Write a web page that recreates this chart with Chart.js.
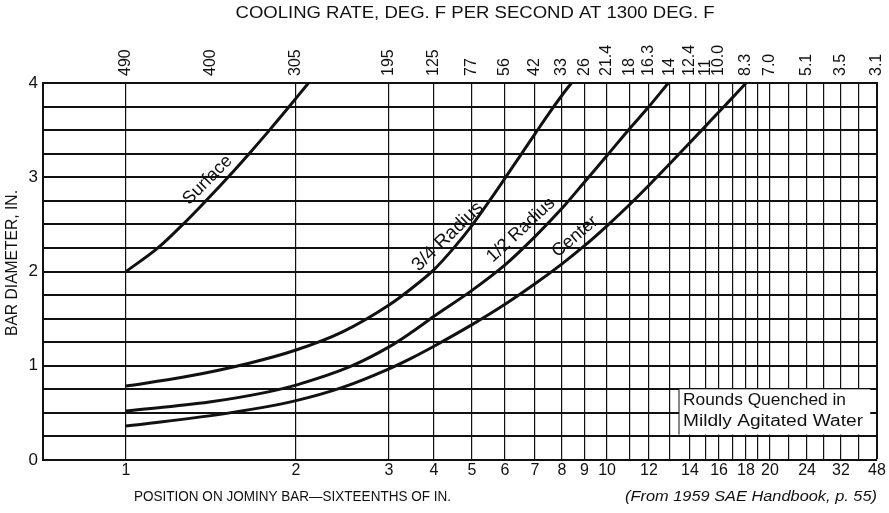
<!DOCTYPE html>
<html>
<head>
<meta charset="utf-8">
<title>Jominy position vs bar diameter</title>
<script src="https://cdn.jsdelivr.net/npm/chart.js@4.4.1/dist/chart.umd.min.js"></script>
<style>
    html, body { margin: 0; padding: 0; background: #fff; }
    #wrap { width: 889px; height: 513px; position: relative; }
</style>
</head>
<body>
<div id="wrap"><canvas id="jominyChart"></canvas></div>
<script>
// --- DATA ---
// Jominy positions (sixteenths of an inch) that carry a vertical grid line
const gridPositions = [1, 2, 3, 4, 5, 6, 7, 8, 9, 10, 11, 12, 13, 14, 15, 16, 17, 18, 19, 20, 22, 24, 28, 32, 40, 48];
// positions that get a printed label on the bottom axis
const bottomLabels = [1, 2, 3, 4, 5, 6, 7, 8, 9, 10, 12, 14, 16, 18, 20, 24, 32, 48];
// top axis: cooling rate (deg F/s at 1300 F) printed at a Jominy position
const ratePositions = [1, 1.5, 2, 3, 4, 5, 6, 7, 8, 9, 10, 11, 12, 13, 14, 15, 16, 18, 20, 24, 32, 48];
const coolingRates = ['490', '400', '305', '195', '125', '77', '56', '42', '33', '26', '21.4', '18', '16.3', '14', '12.4', '11', '10.0', '8.3', '7.0', '5.1', '3.5', '3.1'];

// curves: Jominy position -> bar diameter (in.)
const surfaceJ = [1, 1.188, 1.335, 1.47, 1.6, 1.724, 1.844, 1.96, 2.134];
const surfaceD = [2.0, 2.25, 2.5, 2.75, 3.0, 3.25, 3.5, 3.75, 4.0];

const threeQuarterJ = [1, 1.34, 1.73, 2, 2.5, 3, 3.5, 4, 4.5, 5, 5.5, 6, 6.5, 7, 7.5, 8, 8.42];
const threeQuarterD = [0.785, 0.88, 1.03, 1.167, 1.36, 1.645, 1.82, 2.02, 2.24, 2.49, 2.735, 2.99, 3.225, 3.46, 3.67, 3.87, 4.0];

const halfJ = [1, 1.49, 1.83, 2, 2.58, 3, 3.5, 4, 5, 6, 7, 8, 9, 10, 11, 12, 12.92];
const halfD = [0.52, 0.615, 0.72, 0.795, 0.99, 1.2, 1.355, 1.525, 1.8, 2.07, 2.37, 2.67, 2.95, 3.23, 3.52, 3.75, 4.0];

const centerJ = [1, 1.61, 2, 2.5, 3, 3.5, 4, 5, 6, 7, 8, 9, 10, 11, 12, 13, 14, 15, 16, 17, 18];
const centerD = [0.36, 0.5, 0.63, 0.77, 0.967, 1.081, 1.207, 1.436, 1.652, 1.869, 2.081, 2.274, 2.485, 2.714, 2.915, 3.145, 3.368, 3.548, 3.695, 3.85, 4.0];

// curve captions, placed in data units
const captionText = ['Surface', '3/4 Radius', '1/2 Radius', 'Center'];
const captionJ = [1.48, 4.36, 6.53, 8.58];
const captionD = [2.97, 2.37, 2.44, 2.37];
const captionAngle = [-45, -44, -43, -40];

// --- JOMINY SCALE ---
// the printed Jominy axis is neither linear nor log; it is defined by where each
// position falls along the axis (fraction of the axis length)
const jominyAxisStops = [
    [0.5, 0], [1, 0.0995], [2, 0.3034], [3, 0.4149], [4, 0.4688], [5, 0.5144],
    [6, 0.5540], [7, 0.5899], [8, 0.6223], [9, 0.6493], [10, 0.6763], [11, 0.7038],
    [12, 0.7266], [13, 0.7518], [14, 0.7758], [15, 0.7950], [16, 0.8106], [17, 0.8273],
    [18, 0.8429], [19, 0.8573], [20, 0.8717], [22, 0.8945], [24, 0.9161], [28, 0.9365],
    [32, 0.9568], [40, 0.9784], [48, 1]
];

function interpStops(v, from, to) {
    const s = jominyAxisStops;
    let i = 0;
    while (i < s.length - 2 && v > s[i + 1][from]) i++;
    const a = s[i], b = s[i + 1];
    return a[to] + (v - a[from]) * (b[to] - a[to]) / (b[from] - a[from]);
}

class JominyScale extends Chart.LinearScale {
    getPixelForValue(value) {
        return this.getPixelForDecimal(interpStops(value, 0, 1));
    }
    getValueForPixel(pixel) {
        return interpStops(this.getDecimalForPixel(pixel), 1, 0);
    }
}
JominyScale.id = 'jominy';
JominyScale.defaults = Chart.LinearScale.defaults;
Chart.register(JominyScale);

const FONT = "'Liberation Sans', Arial, Helvetica, sans-serif";
const INK = '#111';
const TOP_TICK_SIZE = 16;

function toPoints(xs, ys) {
    return xs.map((x, i) => ({ x: x, y: ys[i] }));
}

// the scanned lettering is a little wider than Arial, so stretch it to width
function stretchText(ctx, text, x, y, width, align) {
    const w = ctx.measureText(text).width;
    ctx.save();
    ctx.translate(x, y);
    ctx.scale(width / w, 1);
    ctx.textAlign = align;
    ctx.fillText(text, 0, 0);
    ctx.restore();
}

// --- TEXT / ANNOTATION PLUGIN ---
const annotations = {
    id: 'annotations',
    afterDatasetsDraw(chart) {
        const ctx = chart.ctx;
        const x = chart.scales.x;
        const y = chart.scales.y;

        // note box in the lower right corner
        const bx0 = x.getPixelForValue(13.45), bx1 = x.getPixelForValue(45);
        const by0 = y.getPixelForValue(0.75), by1 = y.getPixelForValue(0.27);
        ctx.save();
        ctx.fillStyle = '#fff';
        ctx.fillRect(bx0, by0, bx1 - bx0, by1 - by0);
        ctx.strokeStyle = INK;
        ctx.lineWidth = 1;
        ctx.beginPath();
        ctx.moveTo(bx0, by0);
        ctx.lineTo(bx0, by1);
        ctx.stroke();
        ctx.fillStyle = INK;
        ctx.font = '16px ' + FONT;
        ctx.textBaseline = 'middle';
        stretchText(ctx, 'Rounds Quenched in', bx0 + 4, by0 + 11, 163, 'left');
        stretchText(ctx, 'Mildly Agitated Water', bx0 + 4, by0 + 32, 180, 'left');
        ctx.restore();

        // curve captions
        ctx.save();
        ctx.fillStyle = INK;
        ctx.textAlign = 'center';
        ctx.textBaseline = 'middle';
        captionText.forEach((t, i) => {
            ctx.save();
            ctx.font = (i === 1 ? '19px ' : '18px ') + FONT;
            ctx.translate(x.getPixelForValue(captionJ[i]), y.getPixelForValue(captionD[i]));
            ctx.rotate(captionAngle[i] * Math.PI / 180);
            ctx.fillText(t, 0, 0);
            ctx.restore();
        });
        ctx.restore();
    },
    afterDraw(chart) {
        const ctx = chart.ctx;
        ctx.save();
        ctx.fillStyle = INK;
        ctx.textBaseline = 'middle';

        ctx.font = '16px ' + FONT;
        stretchText(ctx, 'COOLING RATE, DEG. F PER SECOND AT 1300 DEG. F', 475, 14, 479, 'center');

        ctx.font = '15px ' + FONT;
        stretchText(ctx, 'POSITION ON JOMINY BAR\u2014SIXTEENTHS OF IN.', 134, 497, 317, 'left');

        ctx.font = 'italic 15px ' + FONT;
        stretchText(ctx, '(From 1959 SAE Handbook, p. 55)', 877, 497, 252, 'right');

        ctx.font = '16px ' + FONT;
        ctx.translate(13, 263);
        ctx.rotate(-Math.PI / 2);
        stretchText(ctx, 'BAR DIAMETER, IN.', 0, 0, 146, 'center');
        ctx.restore();
    }
};

// --- CHART ---
const curveStyle = {
    borderColor: INK,
    borderWidth: 3,
    pointRadius: 0,
    fill: false,
    cubicInterpolationMode: 'monotone',
    xAxisID: 'x',
    yAxisID: 'y'
};

new Chart(document.getElementById('jominyChart'), {
    type: 'line',
    data: {
        datasets: [
            { label: 'Surface', data: toPoints(surfaceJ, surfaceD), ...curveStyle },
            { label: '3/4 Radius', data: toPoints(threeQuarterJ, threeQuarterD), ...curveStyle },
            { label: '1/2 Radius', data: toPoints(halfJ, halfD), ...curveStyle },
            { label: 'Center', data: toPoints(centerJ, centerD), ...curveStyle }
        ]
    },
    options: {
        responsive: true,
        maintainAspectRatio: false,
        animation: false,
        layout: { padding: { top: 0, right: 12, bottom: 0, left: 0 } },
        plugins: {
            legend: { display: false },
            tooltip: { enabled: false }
        },
        scales: {
            x: {
                type: 'jominy',
                position: 'bottom',
                min: 0.5,
                max: 48,
                afterBuildTicks: (scale) => { scale.ticks = gridPositions.map(v => ({ value: v })); },
                afterFit: (scale) => { scale.height = 53; },
                grid: {
                    color: INK,
                    lineWidth: (c) => (c.tick && c.tick.value === 48 ? 2 : 1.2),
                    drawTicks: false
                },
                border: { color: INK, width: 2 },
                ticks: {
                    autoSkip: false,
                    maxRotation: 0,
                    padding: 1,
                    color: INK,
                    font: { family: FONT, size: 16 },
                    callback: (v) => (bottomLabels.includes(v) ? String(v) : '')
                }
            },
            xTop: {
                type: 'jominy',
                position: 'top',
                min: 0.5,
                max: 48,
                afterBuildTicks: (scale) => { scale.ticks = ratePositions.map(v => ({ value: v })); },
                afterFit: (scale) => { scale.height = 83; },
                grid: { display: false, drawTicks: false },
                border: { color: INK, width: 2 },
                ticks: {
                    autoSkip: false,
                    minRotation: 90,
                    maxRotation: 90,
                    padding: 7,
                    // rotated labels are pushed left by one line height; undo that
                    labelOffset: TOP_TICK_SIZE * 1.2,
                    color: INK,
                    font: { family: FONT, size: TOP_TICK_SIZE },
                    callback: (v) => {
                        const i = ratePositions.indexOf(v);
                        return i >= 0 ? coolingRates[i] : '';
                    }
                }
            },
            y: {
                type: 'linear',
                min: 0,
                max: 4,
                afterFit: (scale) => { scale.width = 43; },
                grid: { color: INK, lineWidth: 2, drawTicks: false },
                border: { color: INK, width: 2 },
                ticks: {
                    stepSize: 0.25,
                    padding: 5,
                    color: INK,
                    font: { family: FONT, size: 17 },
                    callback: (v) => (Number.isInteger(v) ? String(v) : '')
                }
            }
        }
    },
    plugins: [annotations]
});
</script>
</body>
</html>
